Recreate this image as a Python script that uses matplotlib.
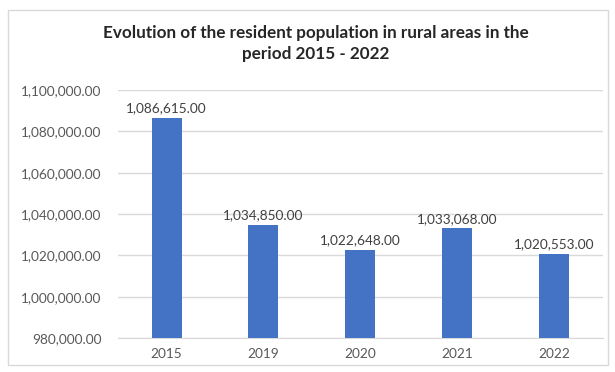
import matplotlib.pyplot as plt
from matplotlib.patches import Rectangle
from matplotlib.ticker import FuncFormatter

years = ['2015', '2019', '2020', '2021', '2022']
population = [1086615, 1034850, 1022648, 1033068, 1020553]

plt.rcParams['font.family'] = ['Lato', 'DejaVu Sans']

fig = plt.figure(figsize=(6.15, 3.72), dpi=100)
ax = fig.add_axes([0.192, 0.091, 0.788, 0.667])

# light chart border like Excel
fig.patches.append(Rectangle((0.013, 0.02), 0.975, 0.953, transform=fig.transFigure,
                             fill=False, edgecolor='#D9D9D9', linewidth=1))

x = range(len(years))
bars = ax.bar(x, population, width=0.31, color='#4472C4', zorder=3)
for i, v in enumerate(population):
    ax.text(i, v + 1800, f'{v:,.2f}', ha='center', va='bottom', fontsize=9.8, color='#404040')

ax.set_xticks(list(x))
ax.set_xticklabels(years)
ax.set_xlim(-0.5, len(years) - 0.5)
ax.set_ylim(980000, 1100000)
ax.set_yticks(range(980000, 1100001, 20000))
ax.yaxis.set_major_formatter(FuncFormatter(lambda v, p: f'{v:,.2f}'))
ax.tick_params(axis='both', length=0, labelsize=9.8, labelcolor='#595959')
ax.tick_params(axis='y', pad=12)
ax.tick_params(axis='x', pad=7)
ax.grid(axis='y', color='#D9D9D9', linewidth=1, zorder=0)
for s in ['top', 'right', 'left']:
    ax.spines[s].set_visible(False)
ax.spines['bottom'].set_color('#D9D9D9')

fig.text(0.514, 0.883, 'Evolution of the resident population in rural areas in the\nperiod 2015 - 2022',
         ha='center', va='center', fontsize=12.3, fontweight='bold', color='#262626', linespacing=1.45)

fig.savefig('out.png', dpi=100)
